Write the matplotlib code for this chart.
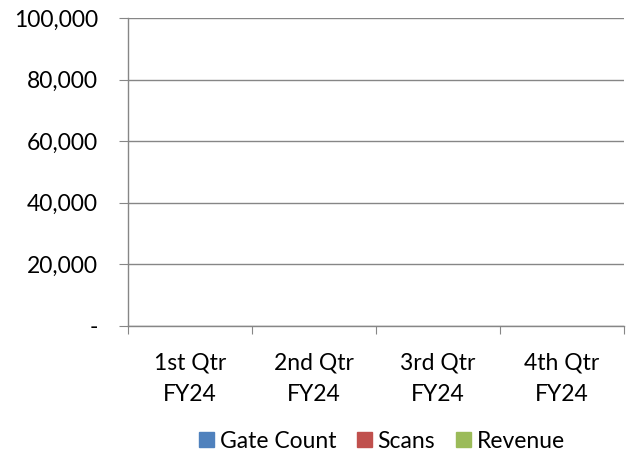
import matplotlib.pyplot as plt
import numpy as np
from matplotlib.patches import Patch

plt.rcParams['font.family'] = ['Lato', 'DejaVu Sans']

quarters = ["1st Qtr\nFY24", "2nd Qtr\nFY24", "3rd Qtr\nFY24", "4th Qtr\nFY24"]
series_names = ["Gate Count", "Scans", "Revenue"]
gate_count = [0, 0, 0, 0]
scans = [0, 0, 0, 0]
revenue = [0, 0, 0, 0]
y_ticks = [0, 20000, 40000, 60000, 80000, 100000]
colors = ['#4F81BD', '#C0504D', '#9BBB59']

fig = plt.figure(figsize=(6.38, 4.53), dpi=100)
ax = fig.add_axes([128 / 638, 1 - 326 / 453, 496 / 638, 308 / 453])

x = np.arange(len(quarters))
w = 0.25
for i, (vals, c) in enumerate(zip([gate_count, scans, revenue], colors)):
    ax.bar(x + (i - 1) * w, vals, width=w, color=c, linewidth=0)

ax.set_xlim(-0.5, len(quarters) - 0.5)
ax.set_ylim(0, 100000)
ax.set_yticks(y_ticks)
ax.set_yticklabels(['-' if v == 0 else f"{v:,}" for v in y_ticks])
ax.set_xticks(np.arange(len(quarters) + 1) - 0.5)
ax.set_xticklabels([])
ax.set_xticks(x, minor=True)
ax.set_xticklabels(quarters, minor=True, linespacing=1.6)

ax.grid(True, axis='y', color='#868686', linewidth=1)
ax.set_axisbelow(True)
for s in ['top', 'right']:
    ax.spines[s].set_visible(False)
for s in ['left', 'bottom']:
    ax.spines[s].set_color('#868686')
    ax.spines[s].set_linewidth(1)

ax.tick_params(axis='y', length=6.5, color='#868686', pad=15, labelsize=16.5, labelcolor='black')
ax.tick_params(axis='x', which='major', length=6, color='#868686')
ax.tick_params(axis='x', which='minor', length=0, pad=19, labelsize=16.5)

handles = [Patch(color=c, label=n) for n, c in zip(series_names, colors)]
fig.legend(handles=handles, loc='center', bbox_to_anchor=(382 / 638, 1 - 441 / 453),
           ncol=3, frameon=False, fontsize=16.5, handlelength=0.65, handleheight=0.65,
           handletextpad=0.25, columnspacing=0.9)

fig.savefig("out.png", dpi=100)
